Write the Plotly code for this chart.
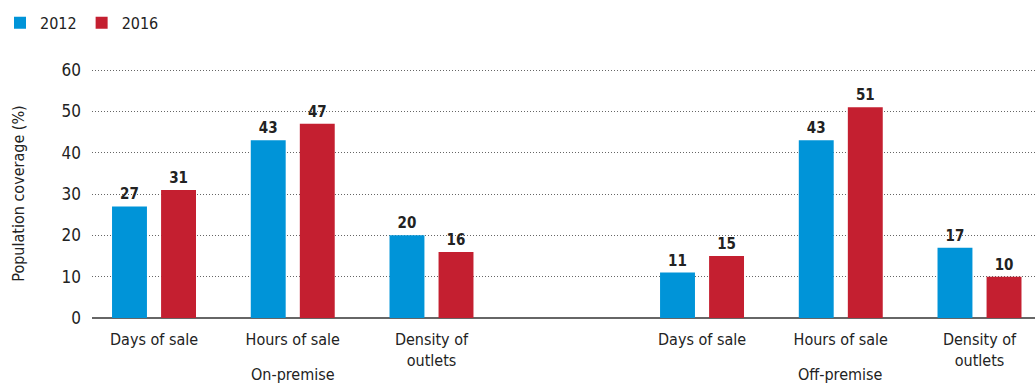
import plotly.graph_objects as go

# Indicators, grouped by premise type
categories = ["Days of sale", "Hours of sale", "Density of<br>outlets",
              "Days of sale", "Hours of sale", "Density of<br>outlets"]
positions = [0, 1, 2, 3.95, 4.95, 5.95]
groups = ["On-premise", "Off-premise"]
group_centres = [1, 4.95]

values_2012 = [27, 43, 20, 11, 43, 17]
values_2016 = [31, 47, 16, 15, 51, 10]

y_ticks = [0, 10, 20, 30, 40, 50, 60]

FONT = "Liberation Sans Narrow, DejaVu Sans Condensed, Roboto, sans-serif"
BLUE = "#0094d8"
RED = "#c41f30"

fig = go.Figure()
for name, vals, col in [("2012", values_2012, BLUE), ("2016", values_2016, RED)]:
    fig.add_trace(go.Bar(
        x=positions, y=vals, name=name, marker=dict(color=col, line=dict(width=0)),
        text=[str(v) for v in vals], textposition="outside",
        textfont=dict(family=FONT, size=15, color="#222222"),
        texttemplate="<b>%{text}</b>", cliponaxis=False,
    ))

for g, c in zip(groups, group_centres):
    fig.add_annotation(x=c, y=-0.268, xref="x", yref="paper", text=g,
                       showarrow=False, yanchor="bottom", borderpad=0,
                       font=dict(family=FONT, size=16, color="#222222"))

fig.update_layout(
    width=1035, height=385,
    margin=dict(l=92, r=0, t=69, b=67),
    paper_bgcolor="white", plot_bgcolor="white",
    barmode="group", bargap=0.293, bargroupgap=0.288,
    font=dict(family=FONT, size=16, color="#222222"),
    showlegend=True,
    legend=dict(orientation="h", xref="container", yref="container",
                x=0.0, y=0.985, xanchor="left", yanchor="top",
                font=dict(family=FONT, size=16, color="#222222"),
                itemwidth=30, tracegroupgap=0),
    xaxis=dict(range=[-0.447, 6.35], tickmode="array", tickvals=positions,
               ticktext=categories, showgrid=False, zeroline=False,
               showline=False, ticks="", ticklabelstandoff=10,
               tickfont=dict(family=FONT, size=16, color="#222222")),
    yaxis=dict(range=[0, 60.25], tickmode="array", tickvals=y_ticks,
               showgrid=True, gridcolor="#666666", griddash="1px,2px", gridwidth=1,
               zeroline=True, zerolinecolor="#666666", zerolinewidth=2,
               ticks="", ticklabelstandoff=10,
               tickfont=dict(family=FONT, size=17, color="#222222"),
               title=dict(text="Population coverage (%)", standoff=32,
                          font=dict(family=FONT, size=16, color="#222222"))),
)

fig.write_html("out.html")
